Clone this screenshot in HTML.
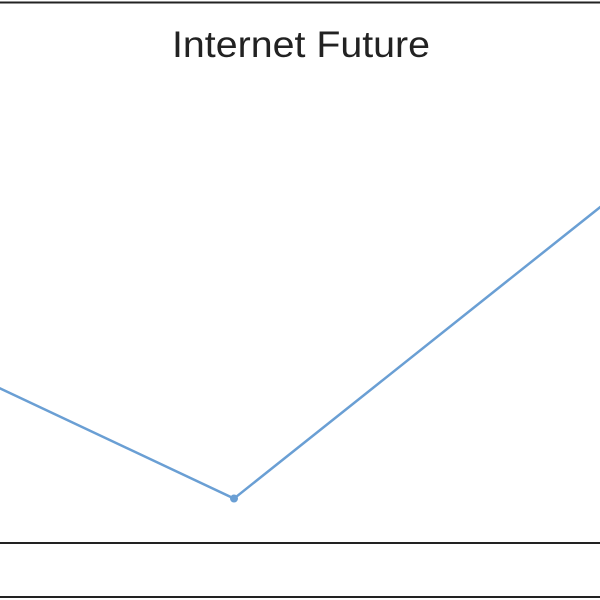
<!DOCTYPE html>
<html><head><meta charset="utf-8"><style>
html,body{margin:0;padding:0;background:#fff;}
svg{display:block;}
</style></head><body>
<svg width="600" height="600" viewBox="0 0 600 600">
<line x1="0" y1="2.5" x2="600" y2="2.5" stroke="#222" stroke-width="2"/>
<line x1="0" y1="543" x2="600" y2="543" stroke="#222" stroke-width="2"/>
<line x1="0" y1="597" x2="600" y2="597" stroke="#222" stroke-width="2"/>
<text x="301" y="57" text-anchor="middle" font-family="Liberation Sans, sans-serif" font-size="37" textLength="258" lengthAdjust="spacingAndGlyphs" fill="#222">Internet Future</text>
<g id="plot"></g>
</svg>
<script>
const categories = ["A","B","C"];
const values = [71.1, 12.7, 111.4];
const xScale = i => -200 + i * 434;
const yScale = v => 543 - v * 3.5;
const ns = "http://www.w3.org/2000/svg";
const plot = document.getElementById("plot");
const pts = values.map((v,i)=>xScale(i)+","+yScale(v)).join(" ");
const pl = document.createElementNS(ns,"polyline");


pl.setAttribute("points", pts);
pl.setAttribute("fill","none");
pl.setAttribute("stroke","#6a9fd4");
pl.setAttribute("stroke-width","2.5");
plot.appendChild(pl);
values.forEach((v,i)=>{
  const c = document.createElementNS(ns,"circle");
  
  
  c.setAttribute("cx", xScale(i));
  c.setAttribute("cy", yScale(v));
  c.setAttribute("r", 4);
  c.setAttribute("fill","#6a9fd4");
  plot.appendChild(c);
});
</script>
</body></html>
